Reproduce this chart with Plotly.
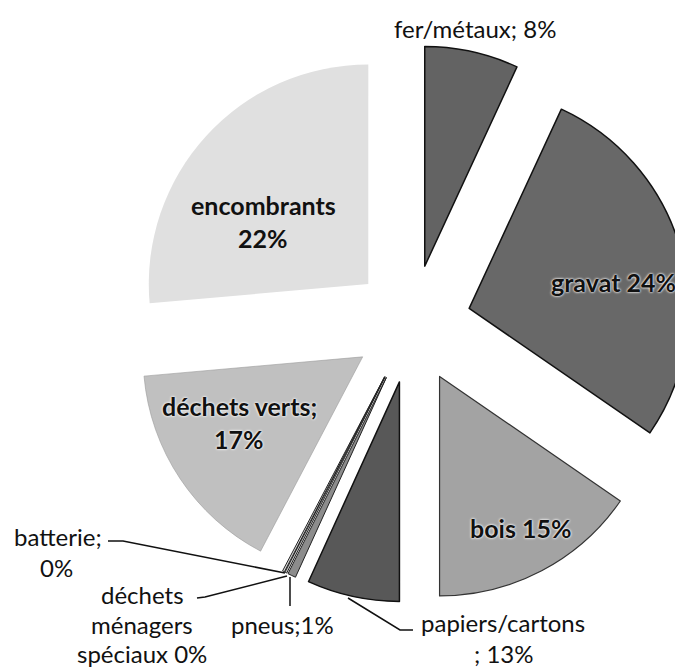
import plotly.graph_objects as go

W, H = 683, 669
OFF = 8  # the page body adds an 8px margin around the figure

# Data (slice sizes as drawn, in % of the full circle) and printed labels
labels = ["fer/métaux", "gravat", "bois", "papiers/cartons", "pneus",
          "déchets ménagers spéciaux", "batterie", "déchets verts", "encombrants"]
values = [6.9, 27.7, 15.4, 6.8, 0.6, 0.15, 0.15, 15.9, 26.4]
printed = ["8%", "24%", "15%", "13%", "1%", "0%", "0%", "17%", "22%"]

colors = ["#636363", "#686868", "#a3a3a3", "#585858", "#8c8c8c",
          "#bdbdbd", "#d9d9d9", "#c0c0c0", "#e0e0e0"]
line_colors = ["#111111", "#111111", "#333333", "#111111", "#222222",
               "#222222", "#222222", "#9a9a9a", "#e0e0e0"]
line_widths = [1.5, 1.5, 1.2, 1.5, 1.0, 1.0, 1.0, 0.6, 0.0]


def X(px):
    return (px - OFF) / W


def Y(py):
    return 1 - (py - OFF) / H


# pie placement (screen pixels): centre, radius, pull
CX, CY, R, PULL = 412 - OFF, 324 - OFF, 219.5, 0.27
half = R * (1 + PULL)
dom_x = [max(0.0, (CX - half) / W), min(1.0, (CX + half) / W)]
dom_y = [max(0.0, 1 - (CY + half) / H), min(1.0, 1 - (CY - half) / H)]

fig = go.Figure(go.Pie(
    labels=labels, values=values, sort=False, direction="clockwise",
    rotation=0, pull=[PULL] * len(values), textinfo="none",
    marker=dict(colors=colors, line=dict(color=line_colors, width=line_widths)),
    domain=dict(x=dom_x, y=dom_y),
    showlegend=False, hoverinfo="label+text", text=printed,
))

FAM = "Lato, Carlito, Open Sans, sans-serif"
REG = dict(family=FAM, size=24, color="#111111")
BOLD = dict(family=FAM, size=25, color="#111111", weight="bold")
BOLD_HALO = dict(BOLD, shadow="0 0 2px #ffffff, 0 0 3px #ffffff")

ann = [
    (475, 28, f"{labels[0]}; {printed[0]}", REG),
    (263, 205, labels[8], BOLD),
    (263, 238, printed[8], BOLD),
    (613, 282, f"{labels[1]} {printed[1]}", BOLD_HALO),
    (520, 528, f"{labels[2]} {printed[2]}", BOLD_HALO),
    (239, 406, f"{labels[7]};", BOLD_HALO),
    (239, 439, printed[7], BOLD_HALO),
    (58, 536, f"{labels[6]};", REG),
    (56, 567, printed[6], REG),
    (142, 594, "déchets", REG),
    (142, 624, "ménagers", REG),
    (142, 653, f"spéciaux {printed[5]}", REG),
    (282, 624, f"{labels[4]};{printed[4]}", REG),
    (503, 622, labels[3], REG),
    (504, 653, f"; {printed[3]}", REG),
]
annotations = [dict(x=X(x), y=Y(y), xref="paper", yref="paper", text=t,
                    showarrow=False, font=f, xanchor="center", yanchor="middle")
               for x, y, t, f in ann]

leaders = [
    [(108, 541), (123, 541), (285, 573)],
    [(197, 598), (205, 597), (287, 576)],
    [(290, 577), (290, 606)],
    [(348, 598), (400, 630), (413, 630)],
]
shapes = []
for pts in leaders:
    path = "M " + " L ".join(f"{X(a):.5f},{Y(b):.5f}" for a, b in pts)
    shapes.append(dict(type="path", path=path, xref="paper", yref="paper",
                       line=dict(color="#111111", width=1.5)))

fig.update_layout(
    width=W, height=H, margin=dict(l=0, r=0, t=0, b=0),
    paper_bgcolor="white", plot_bgcolor="white",
    annotations=annotations, shapes=shapes,
)

fig.write_html("out.html")
